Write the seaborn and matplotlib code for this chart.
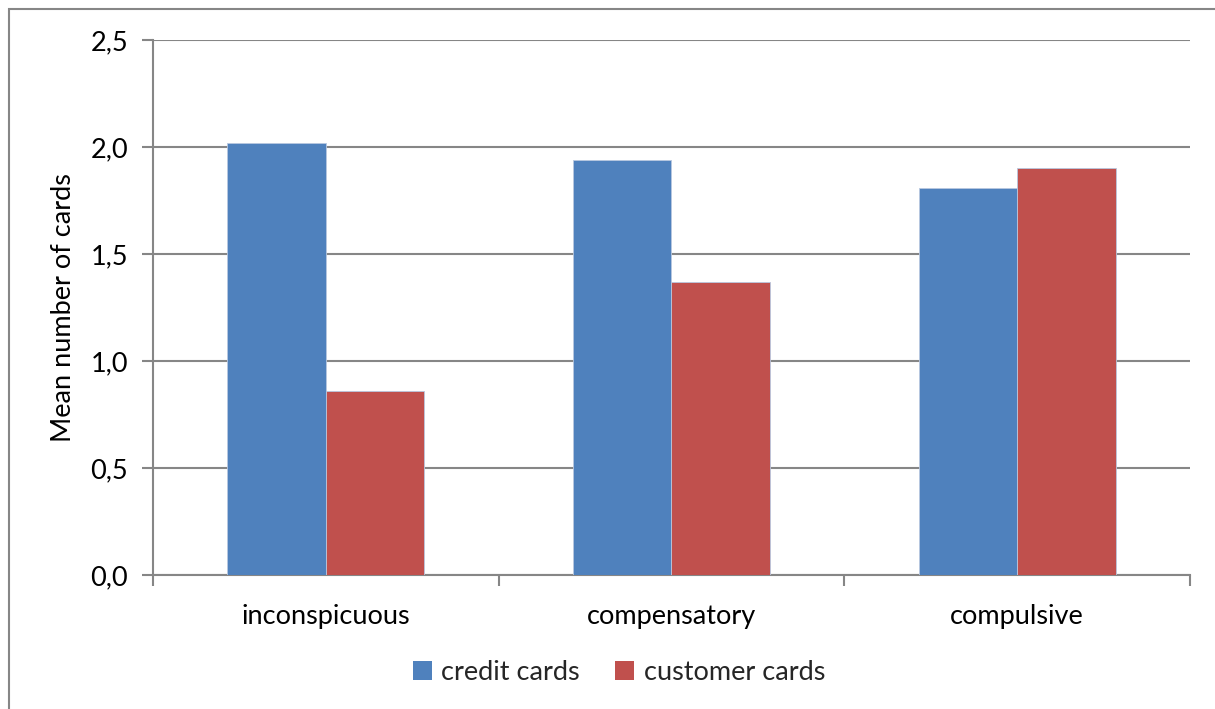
import matplotlib
matplotlib.use("Agg")
import matplotlib.pyplot as plt
import matplotlib.ticker as mticker
from matplotlib.patches import Rectangle, Patch
import seaborn as sns
import pandas as pd

categories = ["inconspicuous", "compensatory", "compulsive"]
series = ["credit cards", "customer cards"]
credit_cards = [2.02, 1.94, 1.81]
customer_cards = [0.86, 1.37, 1.90]
colors = ["#4F81BD", "#C0504D"]
y_ticks = [0.0, 0.5, 1.0, 1.5, 2.0, 2.5]

df = pd.DataFrame({
    "category": categories * 2,
    "series": [series[0]] * 3 + [series[1]] * 3,
    "value": credit_cards + customer_cards,
})

sns.set_theme(style="white")
plt.rcParams["font.family"] = ["Lato", "DejaVu Sans"]

FS = 19.5
W, H, DPI = 1215, 709, 100
fig = plt.figure(figsize=(W / DPI, H / DPI), dpi=DPI)
ax = fig.add_axes([153 / W, 1 - 575 / H, (1190 - 153) / W, (575 - 40) / H])

grey = "#868686"
fig.patches.append(Rectangle((9 / W, -0.1), 1.2, (H - 9) / H + 0.1, transform=fig.transFigure,
                             fill=False, edgecolor=grey, linewidth=1.5, zorder=0))

sns.barplot(data=df, x="category", y="value", hue="series", order=categories,
            hue_order=series, palette=colors, width=0.57, saturation=1,
            edgecolor="#b8c8e0", linewidth=0.6, ax=ax, legend=False, zorder=3)

ax.set_xlim(-0.5, 2.5)
ax.set_ylim(0, 2.5)
ax.set_yticks(y_ticks)
ax.yaxis.set_major_formatter(mticker.FuncFormatter(lambda v, _: f"{v:.1f}".replace(".", ",")))
ax.yaxis.grid(True, color=grey, linewidth=1.5, zorder=0)
ax.set_axisbelow(True)

for s in ["top", "right"]:
    ax.spines[s].set_visible(False)
for s in ["left", "bottom"]:
    ax.spines[s].set_color(grey)
    ax.spines[s].set_linewidth(1.5)

ax.set_xticks([0, 1, 2])
ax.set_xticklabels(categories)
ax.tick_params(axis="x", which="major", bottom=False, length=0, pad=21, labelsize=FS, colors="black")
ax.set_xticks([-0.5, 0.5, 1.5, 2.5], minor=True)
ax.tick_params(axis="x", which="minor", bottom=True, length=8, width=1.5, color=grey, direction="out")
ax.tick_params(axis="y", left=True, length=8, width=1.5, color=grey, direction="out",
               labelsize=FS, labelcolor="black", pad=10)
ax.set_xlabel("")
ax.set_ylabel("Mean number of cards", fontsize=FS, labelpad=10, color="black")

handles = [Patch(facecolor=c, edgecolor="none") for c in colors]
fig.legend(handles, series, loc="center", bbox_to_anchor=(619 / W, 1 - 672 / H), ncol=2,
           frameon=False, fontsize=FS, handlelength=0.7, handleheight=0.7,
           handletextpad=0.35, columnspacing=1.3)

fig.savefig("out.png", dpi=DPI)
